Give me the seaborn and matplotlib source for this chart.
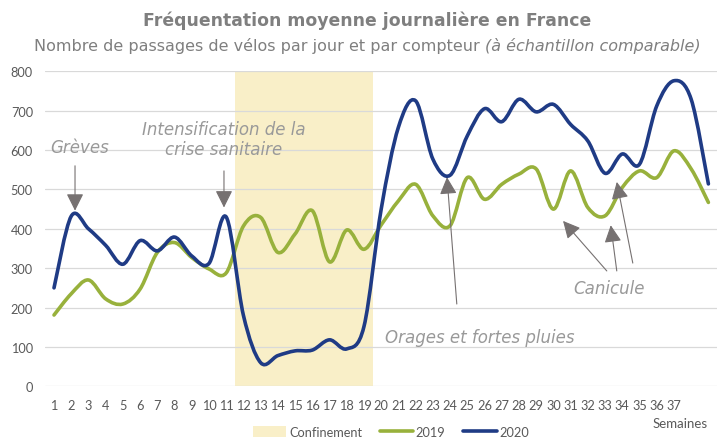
import matplotlib
matplotlib.use("Agg")
import matplotlib.pyplot as plt
import seaborn as sns
from matplotlib.path import Path
from matplotlib.patches import PathPatch, Patch
from matplotlib.lines import Line2D

# ---- data ----
weeks = list(range(1, 40))
tick_labels = [str(i) for i in range(1, 38)] + ["", ""]
v2019 = [181, 235, 270, 222, 209, 247, 340, 365, 327, 298, 288, 407, 429, 340, 387,
         446, 316, 397, 348, 410, 471, 513, 433, 408, 530, 475, 513, 539, 552, 450,
         547, 454, 433, 505, 547, 530, 598, 552, 467]
v2020 = [250, 432, 400, 358, 310, 370, 344, 379, 331, 312, 430, 180, 60, 78, 90,
         92, 118, 95, 152, 450, 658, 725, 577, 536, 636, 705, 672, 729, 697, 716,
         665, 623, 541, 590, 564, 712, 776, 729, 514]
confinement_weeks = (12, 19)
y_ticks = [0, 100, 200, 300, 400, 500, 600, 700, 800]

title = "Fréquentation moyenne journalière en France"
subtitle_main = "Nombre de passages de vélos par jour et par compteur "
subtitle_it = "(à échantillon comparable)"

C2019 = "#98b13c"
C2020 = "#1f3b85"
CCONF = "#f9efc8"
CGRAY = "#767171"
CTXT = "#999999"

sns.set_theme(style="white")
plt.rcParams["font.family"] = ["Liberation Sans Narrow", "DejaVu Sans Condensed", "DejaVu Sans"]

fig = plt.figure(figsize=(7.2, 4.39), dpi=100)
ax = fig.add_axes([45.4 / 720, 1 - 387.3 / 439, (717 - 45.4) / 720, (387.3 - 72.3) / 439])


def smooth_path(x, y):
    n = len(x)
    verts = [(x[0], y[0])]
    codes = [Path.MOVETO]
    for i in range(n - 1):
        p0 = (x[i - 1], y[i - 1]) if i > 0 else (x[i], y[i])
        p1 = (x[i], y[i])
        p2 = (x[i + 1], y[i + 1])
        p3 = (x[i + 2], y[i + 2]) if i + 2 < n else p2
        c1 = (p1[0] + (p2[0] - p0[0]) / 6, p1[1] + (p2[1] - p0[1]) / 6)
        c2 = (p2[0] - (p3[0] - p1[0]) / 6, p2[1] - (p3[1] - p1[1]) / 6)
        verts += [c1, c2, p2]
        codes += [Path.CURVE4] * 3
    return Path(verts, codes)


ax.axvspan(confinement_weeks[0] - 0.5, confinement_weeks[1] + 0.5, color=CCONF, lw=0, zorder=0)
for yt in y_ticks:
    ax.axhline(yt, color="#d9d9d9", lw=0.9, zorder=0.5)

for vals, col in [(v2019, C2019), (v2020, C2020)]:
    ax.add_patch(PathPatch(smooth_path(weeks, vals), fill=False, edgecolor=col, lw=2.6,
                           capstyle="round", joinstyle="round", zorder=3))

ax.set_xlim(0.5, 39.5)
ax.set_ylim(0, 800)
ax.set_xticks(weeks)
ax.set_xticklabels(tick_labels)
ax.set_yticks(y_ticks)
ax.tick_params(axis="x", length=0, pad=9, labelsize=9.2, colors="#595959")
ax.tick_params(axis="y", length=0, pad=9, labelsize=9.2, colors="#595959")
for lab in ax.get_xticklabels() + ax.get_yticklabels():
    lab.set_family(["Lato", "DejaVu Sans"])
for s in ax.spines.values():
    s.set_visible(False)
ax.set_facecolor("none")

# annotations
arrow_kw = dict(arrowstyle="-|>,head_length=0.7,head_width=0.35", mutation_scale=15,
                color=CGRAY, lw=0.8, shrinkA=0, shrinkB=0)
arrows = [((2.22, 560), (2.22, 446)),
          ((10.87, 547), (10.87, 454)),
          ((24.39, 209), (23.82, 531)),
          ((33.10, 293), (30.56, 420)),
          ((33.68, 293), (33.33, 409)),
          ((34.61, 313), (33.68, 519))]
for tail, tip in arrows:
    ax.annotate("", xy=tip, xytext=tail, arrowprops=arrow_kw, zorder=4)

tkw = dict(color=CTXT, fontsize=12, style="italic", zorder=5)
ax.text(0.77, 607, "Grèves", ha="left", va="center", **tkw)
ax.text(10.87, 629, "Intensification de la\ncrise sanitaire", ha="center", va="center",
        linespacing=1.15, **tkw)
ax.text(25.74, 125, "Orages et fortes pluies", ha="center", va="center", **tkw)
ax.text(33.23, 250, "Canicule", ha="center", va="center", **tkw)

# titles
fig.text(367.5 / 720, 1 - 21 / 439, title, ha="center", va="center", fontsize=12.4,
         fontweight="bold", color="#7f7f7f")
t1 = fig.text(34 / 720, 1 - 46 / 439, subtitle_main, ha="left", va="center",
              fontsize=11.5, color="#7f7f7f")
ax.annotate(subtitle_it, xy=(1, 0), xycoords=t1, ha="left", va="bottom",
            fontsize=11.5, color="#7f7f7f", style="italic", annotation_clip=False)

fig.text(680 / 720, 1 - 424 / 439, "Semaines", ha="center", va="center", fontsize=9.5,
         color="#595959", family=["Lato", "DejaVu Sans"])

handles = [Patch(facecolor=CCONF, edgecolor="none"),
           Line2D([0], [0], color=C2019, lw=2.6),
           Line2D([0], [0], color=C2020, lw=2.6)]
leg = fig.legend(handles, ["Confinement", "2019", "2020"], loc="center",
                 bbox_to_anchor=(391 / 720, 1 - 433 / 439), ncol=3, frameon=False,
                 handlelength=2.6, handleheight=0.9, handletextpad=0.2, columnspacing=1.4,
                 prop={"family": ["Lato", "DejaVu Sans"], "size": 9.2})
for t in leg.get_texts():
    t.set_color("#595959")

fig.savefig("out.png", dpi=100)
